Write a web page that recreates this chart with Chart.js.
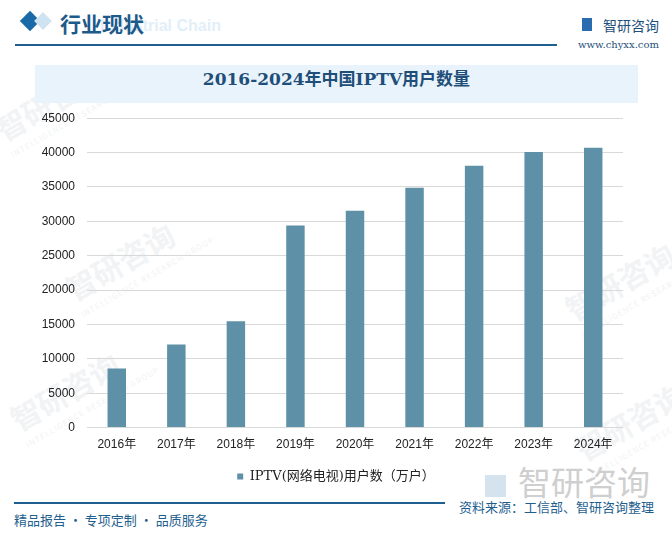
<!DOCTYPE html>
<html>
<head>
<meta charset="utf-8">
<script src="https://cdn.jsdelivr.net/npm/chart.js@4.4.0/dist/chart.umd.min.js"></script>
<style>
  html,body{margin:0;padding:0;background:#fff;}
  body{width:672px;height:535px;position:relative;overflow:hidden;font-family:"Noto Sans CJK SC","DejaVu Sans",sans-serif;}
  .abs{position:absolute;white-space:nowrap;}
  .wm{position:absolute;color:#f1f3f5;font-size:30px;font-weight:bold;transform:rotate(-30deg);white-space:nowrap;}
  .wm small{display:block;font-size:8px;letter-spacing:1px;font-weight:normal;}
  #wrap{position:absolute;left:0;top:99px;width:672px;height:398px;}
</style>
</head>
<body>
<div class="wm" style="left:-10px;top:70px;">智研咨询<small>INTELLIGENCE RESEARCH GROUP</small></div>
<div class="wm" style="left:60px;top:230px;">智研咨询<small>INTELLIGENCE RESEARCH GROUP</small></div>
<div class="wm" style="left:5px;top:360px;">智研咨询<small>INTELLIGENCE RESEARCH GROUP</small></div>
<div class="wm" style="left:560px;top:250px;">智研咨询<small>INTELLIGENCE RESEARCH GROUP</small></div>
<div class="wm" style="left:570px;top:390px;">智研咨询<small>INTELLIGENCE RESEARCH GROUP</small></div>

<!-- header -->
<div class="abs" style="left:22px;top:13px;width:16px;height:16px;background:#1a6aa8;transform:rotate(45deg) scale(0.9);"></div>
<div class="abs" style="left:36px;top:14px;width:14px;height:14px;background:#cfe3f1;transform:rotate(45deg) scale(0.9);"></div>
<div class="abs" style="left:100px;top:17px;font:bold 16px 'Liberation Sans',sans-serif;color:#e2eff9;">Industrial Chain</div>
<div class="abs" style="left:60px;top:8px;font:bold 21px 'Noto Sans CJK SC',sans-serif;color:#1c5a8a;">行业现状</div>
<div class="abs" style="left:15px;top:44px;width:542px;height:2px;background:#1f5f8f;"></div>
<div class="abs" style="left:582px;top:18px;width:10px;height:13px;background:#2a6cb0;"></div>
<div class="abs" style="left:603px;top:15px;font:14px 'Noto Sans CJK SC',sans-serif;color:#1e4f7a;">智研咨询</div>
<div class="abs" style="left:578px;top:39px;font:10px 'DejaVu Serif',serif;color:#1e4f7a;">www.chyxx.com</div>

<!-- title -->
<div class="abs" style="left:35px;top:65px;width:603px;height:38px;background:#e8f3fb;"></div>
<div class="abs" style="left:35px;top:65px;width:603px;height:38px;line-height:38px;text-align:center;font:bold 17px 'DejaVu Serif','Noto Sans CJK SC',serif;color:#1f4e79;">2016-2024年中国IPTV用户数量</div>

<!-- footer -->
<div class="abs" style="left:485px;top:457px;font:33px 'Noto Sans CJK SC',sans-serif;color:#cfcfcf;"><span style="display:inline-block;width:21px;height:22px;background:#d5e3ef;margin-right:12px;vertical-align:-2px;"></span>智研咨询</div>
<div class="abs" style="left:14px;top:502px;width:431px;height:2px;background:#1f5f8f;"></div>
<div class="abs" style="left:459px;top:497px;font:13px 'Noto Sans CJK SC',sans-serif;color:#1f5f8f;">资料来源：工信部、智研咨询整理</div>
<div class="abs" style="left:14px;top:510px;font:13px 'Noto Sans CJK SC',sans-serif;color:#1f5f8f;">精品报告 · 专项定制 · 品质服务</div>

<div id="wrap"><canvas id="c"></canvas></div>
<script>
const categories = ["2016年","2017年","2018年","2019年","2020年","2021年","2022年","2023年","2024年"];
const seriesName = "IPTV(网络电视)用户数（万户）";
const users = [8600, 12100, 15450, 29400, 31550, 34900, 38100, 40100, 40700];
const yTicks = [0,5000,10000,15000,20000,25000,30000,35000,40000,45000];

new Chart(document.getElementById('c'), {
  type: 'bar',
  data: {
    labels: categories,
    datasets: [{
      label: seriesName,
      data: users,
      backgroundColor: '#5e91a8',
      barPercentage: 0.31,
      categoryPercentage: 1.0
    }]
  },
  options: {
    responsive: true,
    maintainAspectRatio: false,
    animation: false,
    layout: { padding: { left: 0, right: 0, top: 2, bottom: 4 } },
    plugins: {
      title: { display: false },
      tooltip: { enabled: false },
      legend: {
        position: 'bottom',
        labels: {
          boxWidth: 6, boxHeight: 6, padding: 8,
          color: '#222',
          font: { size: 13, family: "'DejaVu Serif','Noto Sans CJK SC',serif" }
        }
      }
    },
    scales: {
      x: {
        grid: { display: false, drawTicks: false },
        border: { display: false },
        ticks: { color: '#222', padding: 10, font: { size: 12, family: "'Liberation Sans','Noto Sans CJK SC',sans-serif" } }
      },
      y: {
        min: 0, max: 45000,
        afterFit: s => { s.width = 87; },
        afterBuildTicks: s => { s.ticks = yTicks.map(v => ({ value: v })); },
        grid: { color: '#d9d9d9', drawTicks: false, lineWidth: 1 },
        border: { display: false },
        ticks: { color: '#222', padding: 12, callback: v => String(v), font: { size: 12, family: "'Liberation Sans',sans-serif" } }
      },
      yr: {
        position: 'right',
        min: 0, max: 45000,
        afterFit: s => { s.width = 49; },
        grid: { display: false, drawTicks: false },
        border: { display: false },
        ticks: { display: false }
      }
    }
  }
});
</script>
</body>
</html>
